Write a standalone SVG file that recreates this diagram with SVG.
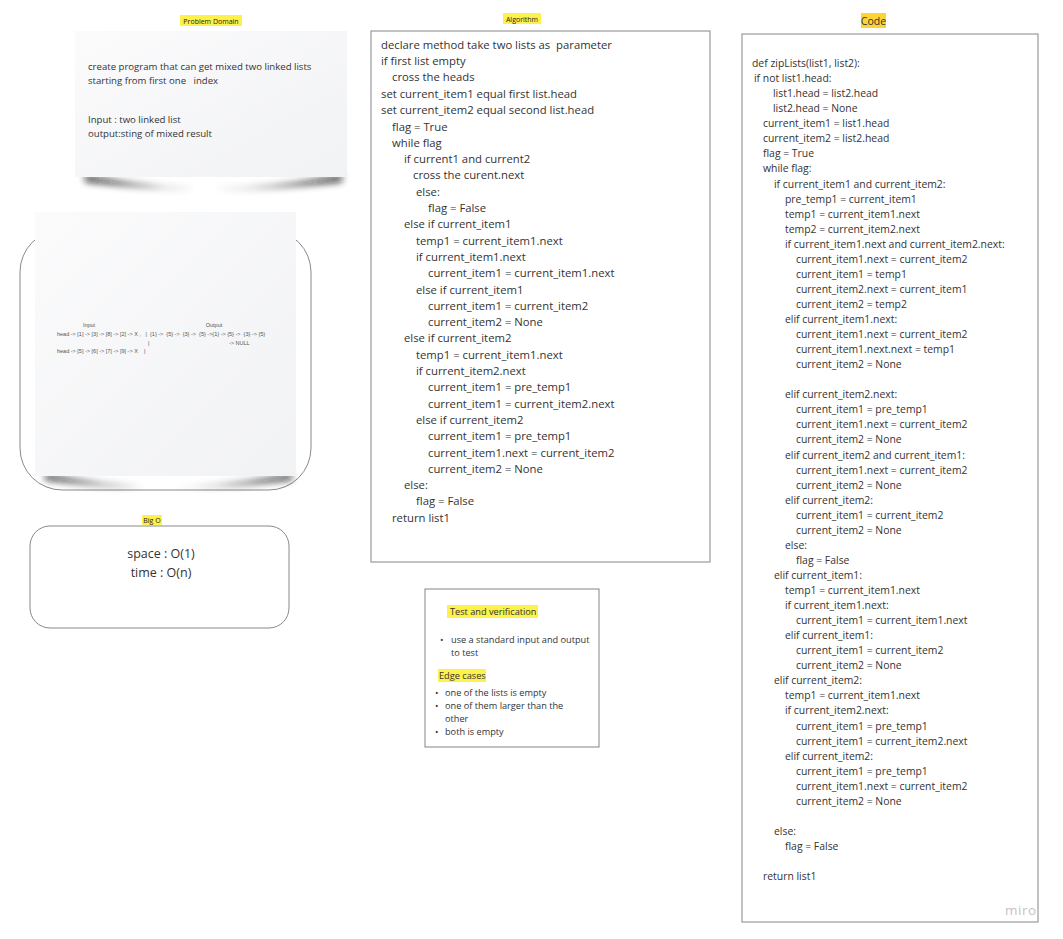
<svg xmlns="http://www.w3.org/2000/svg" width="1063" height="939" viewBox="0 0 1063 939">
<defs>
<linearGradient id="stk" x1="0" y1="0" x2="1" y2="1">
<stop offset="0" stop-color="#fbfbfc"/>
<stop offset="1" stop-color="#f1f2f4"/>
</linearGradient>
<filter id="blur" x="-20%" y="-100%" width="140%" height="300%">
<feGaussianBlur stdDeviation="3.5"/>
</filter>
<style>
text{font-family:"Open Sans","Noto Sans","Liberation Sans",sans-serif;fill:#333333}
.lbl{font-size:7px;text-anchor:middle;fill:#222}
.pd{font-size:9.6px}
.alg{font-size:11.3px}
.code{font-size:10.4px}
.tiny{font-size:5.5px;fill:#555;font-family:"Liberation Sans","DejaVu Sans",sans-serif;font-variant-ligatures:none}
.tv{font-size:9.2px}
.box{fill:#ffffff;stroke:#9a9a9a;stroke-width:1.2}
.hl{fill:#fdf14a}
</style>
</defs>
<rect width="1063" height="939" fill="#ffffff"/>

<g id="problem-domain">
<rect class="hl" x="180" y="15" width="62" height="11"/>
<text class="lbl" x="211" y="23.5">Problem Domain</text>
<path d="M85 174 Q210 204 342 174 L342 182 Q210 196 85 182 Z" fill="#111" opacity="0.75" filter="url(#blur)"/>
<rect x="75" y="31" width="272" height="146" fill="url(#stk)"/>
<text class="pd" x="88" y="70">create program that can get mixed two linked lists</text>
<text class="pd" x="88" y="84" xml:space="preserve">starting from first one   index</text>
<text class="pd" x="88" y="123">Input : two linked list</text>
<text class="pd" x="88" y="137">output:sting of mixed result</text>
</g>

<g id="example">
<rect x="20" y="230" width="291" height="260" rx="42" fill="#ffffff" stroke="#8a8a8a" stroke-width="1"/>
<path d="M45 473 Q165 502 292 473 L292 480 Q165 495 45 480 Z" fill="#111" opacity="0.75" filter="url(#blur)"/>
<rect x="35" y="212" width="261" height="264" fill="url(#stk)"/>
<text class="tiny" x="89" y="327" text-anchor="middle">Input</text>
<text class="tiny" x="214" y="327" text-anchor="middle">Output</text>
<text class="tiny" x="57" y="336" xml:space="preserve">head -&gt; [1] -&gt; [3] -&gt; [8] -&gt; [2] -&gt; X ,   |  {1} -&gt;  {5} -&gt;  {3} -&gt;  {5} -&gt;{1} -&gt; {5} -&gt;  {3} -&gt; {5}</text>
<text class="tiny" x="148" y="345">|</text>
<text class="tiny" x="229" y="345">-&gt; NULL</text>
<text class="tiny" x="57" y="353" xml:space="preserve">head -&gt; [5] -&gt; [6] -&gt; [7] -&gt; [9] -&gt; X    |</text>
</g>

<g id="big-o">
<rect class="hl" x="142" y="515" width="20" height="10"/>
<text class="lbl" x="152" y="523">Big O</text>
<rect x="30" y="526" width="259" height="102" rx="20" fill="#ffffff" stroke="#8a8a8a" stroke-width="1"/>
<text x="161" y="558" font-size="12.5" text-anchor="middle">space : O(1)</text>
<text x="161" y="577" font-size="12.5" text-anchor="middle">time : O(n)</text>
</g>

<g id="algorithm">
<rect class="hl" x="503" y="13" width="38" height="11"/>
<text class="lbl" x="522" y="21.5">Algorithm</text>
<rect class="box" x="371" y="31" width="339" height="531"/>
<text class="alg" x="381" y="49" xml:space="preserve">declare method take two lists as  parameter</text>
<text class="alg" x="381" y="65">if first list empty</text>
<text class="alg" x="392" y="81">cross the heads</text>
<text class="alg" x="381" y="98">set current_item1 equal first list.head</text>
<text class="alg" x="381" y="114">set current_item2 equal second list.head</text>
<text class="alg" x="392" y="131">flag = True</text>
<text class="alg" x="392" y="147">while flag</text>
<text class="alg" x="404" y="163">if current1 and current2</text>
<text class="alg" x="413" y="179">cross the curent.next</text>
<text class="alg" x="416" y="196">else:</text>
<text class="alg" x="428" y="212">flag = False</text>
<text class="alg" x="404" y="228">else if current_item1</text>
<text class="alg" x="416" y="245">temp1 = current_item1.next</text>
<text class="alg" x="416" y="261">if current_item1.next</text>
<text class="alg" x="428" y="277">current_item1 = current_item1.next</text>
<text class="alg" x="416" y="294">else if current_item1</text>
<text class="alg" x="428" y="310">current_item1 = current_item2</text>
<text class="alg" x="428" y="326">current_item2 = None</text>
<text class="alg" x="404" y="342">else if current_item2</text>
<text class="alg" x="416" y="359">temp1 = current_item1.next</text>
<text class="alg" x="416" y="375">if current_item2.next</text>
<text class="alg" x="428" y="391">current_item1 = pre_temp1</text>
<text class="alg" x="428" y="408">current_item1 = current_item2.next</text>
<text class="alg" x="416" y="424">else if current_item2</text>
<text class="alg" x="428" y="440">current_item1 = pre_temp1</text>
<text class="alg" x="428" y="457">current_item1.next = current_item2</text>
<text class="alg" x="428" y="473">current_item2 = None</text>
<text class="alg" x="404" y="489">else:</text>
<text class="alg" x="416" y="505">flag = False</text>
<text class="alg" x="392" y="522">return list1</text>
</g>

<g id="test-verification">
<rect class="box" x="425" y="589" width="174" height="158"/>
<rect class="hl" x="447" y="605" width="91" height="13"/>
<text class="tv" x="450" y="614.5">Test and verification</text>
<text class="tv" x="440" y="643">•</text>
<text class="tv" x="451" y="643">use a standard input and output</text>
<text class="tv" x="451" y="656">to test</text>
<rect class="hl" x="438" y="669" width="48" height="13"/>
<text class="tv" x="439" y="678.5">Edge cases</text>
<text class="tv" x="435" y="696">•</text>
<text class="tv" x="445" y="696">one of the lists is empty</text>
<text class="tv" x="435" y="709">•</text>
<text class="tv" x="445" y="709">one of them larger than the</text>
<text class="tv" x="445" y="722">other</text>
<text class="tv" x="435" y="735">•</text>
<text class="tv" x="445" y="735">both is empty</text>
</g>

<g id="code">
<rect x="861" y="13" width="25" height="15" fill="#fbd534"/>
<text x="873.5" y="24.5" font-size="10.5" text-anchor="middle" fill="#222">Code</text>
<rect class="box" x="742" y="34" width="296" height="888"/>
<text class="code" x="752" y="67">def zipLists(list1, list2):</text>
<text class="code" x="754" y="82">if not list1.head:</text>
<text class="code" x="773" y="97">list1.head = list2.head</text>
<text class="code" x="773" y="112">list2.head = None</text>
<text class="code" x="763" y="127">current_item1 = list1.head</text>
<text class="code" x="763" y="142">current_item2 = list2.head</text>
<text class="code" x="763" y="157">flag = True</text>
<text class="code" x="763" y="172">while flag:</text>
<text class="code" x="774" y="188">if current_item1 and current_item2:</text>
<text class="code" x="785" y="203">pre_temp1 = current_item1</text>
<text class="code" x="785" y="218">temp1 = current_item1.next</text>
<text class="code" x="785" y="233">temp2 = current_item2.next</text>
<text class="code" x="785" y="248">if current_item1.next and current_item2.next:</text>
<text class="code" x="796" y="263">current_item1.next = current_item2</text>
<text class="code" x="796" y="278">current_item1 = temp1</text>
<text class="code" x="796" y="293">current_item2.next = current_item1</text>
<text class="code" x="796" y="308">current_item2 = temp2</text>
<text class="code" x="785" y="323">elif current_item1.next:</text>
<text class="code" x="796" y="338">current_item1.next = current_item2</text>
<text class="code" x="796" y="353">current_item1.next.next = temp1</text>
<text class="code" x="796" y="368">current_item2 = None</text>
<text class="code" x="785" y="398">elif current_item2.next:</text>
<text class="code" x="796" y="413">current_item1 = pre_temp1</text>
<text class="code" x="796" y="428">current_item1.next = current_item2</text>
<text class="code" x="796" y="443">current_item2 = None</text>
<text class="code" x="785" y="459">elif current_item2 and current_item1:</text>
<text class="code" x="796" y="474">current_item1.next = current_item2</text>
<text class="code" x="796" y="489">current_item2 = None</text>
<text class="code" x="785" y="504">elif current_item2:</text>
<text class="code" x="796" y="519">current_item1 = current_item2</text>
<text class="code" x="796" y="534">current_item2 = None</text>
<text class="code" x="785" y="549">else:</text>
<text class="code" x="796" y="564">flag = False</text>
<text class="code" x="774" y="579">elif current_item1:</text>
<text class="code" x="785" y="594">temp1 = current_item1.next</text>
<text class="code" x="785" y="609">if current_item1.next:</text>
<text class="code" x="796" y="624">current_item1 = current_item1.next</text>
<text class="code" x="785" y="639">elif current_item1:</text>
<text class="code" x="796" y="654">current_item1 = current_item2</text>
<text class="code" x="796" y="669">current_item2 = None</text>
<text class="code" x="774" y="684">elif current_item2:</text>
<text class="code" x="785" y="699">temp1 = current_item1.next</text>
<text class="code" x="785" y="714">if current_item2.next:</text>
<text class="code" x="796" y="730">current_item1 = pre_temp1</text>
<text class="code" x="796" y="745">current_item1 = current_item2.next</text>
<text class="code" x="785" y="760">elif current_item2:</text>
<text class="code" x="796" y="775">current_item1 = pre_temp1</text>
<text class="code" x="796" y="790">current_item1.next = current_item2</text>
<text class="code" x="796" y="805">current_item2 = None</text>
<text class="code" x="774" y="835">else:</text>
<text class="code" x="785" y="850">flag = False</text>
<text class="code" x="763" y="880">return list1</text>
</g>

<text x="1005" y="915" font-size="13.5" style="fill:#c4c4c4;letter-spacing:0.5px">miro</text>
<g id="connectors"/>
</svg>
